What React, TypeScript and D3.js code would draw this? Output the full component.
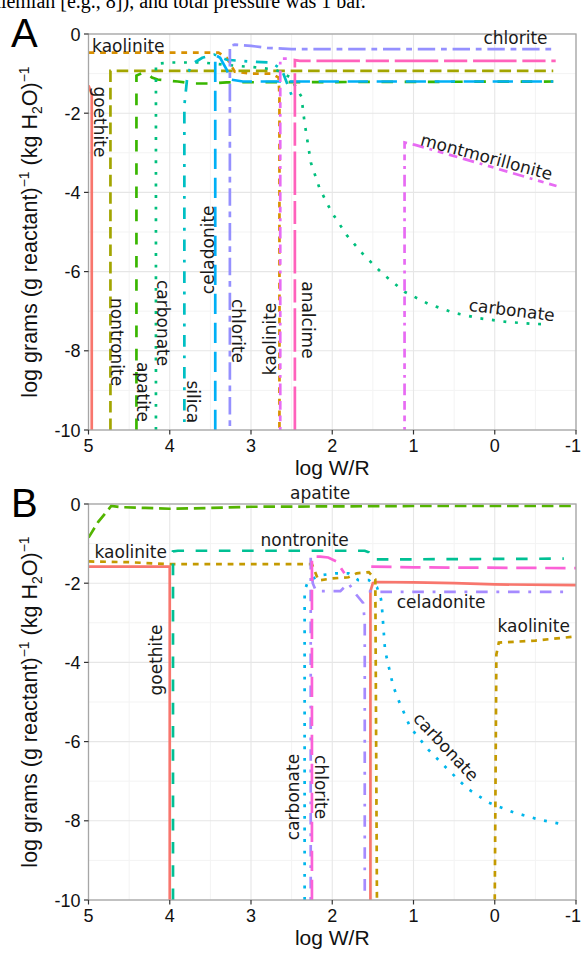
import React from 'react';
import * as d3 from 'd3';

// axis ticks shared by both panels (x axis runs from 5 down to -1)
const xTicks = [5, 4, 3, 2, 1, 0, -1];
const xMinor = [4.5, 3.5, 2.5, 1.5, 0.5, -0.5];
const yTicks = [0, -2, -4, -6, -8, -10];
const yMinor = [-1, -3, -5, -7, -9];

// ---- panel A, each mineral is a list of runs of [log W/R, log grams]
const goethiteA = [[[5, -1.3], [4.96, -1.5], [4.96, -10]]];
const kaoliniteA = [[[5, -0.47], [3.4, -0.47], [3.3, -0.6], [3.2, -0.95], [3.0, -1.0], [2.75, -1.0], [2.66, -1.1], [2.65, -1.6], [2.65, -10]]];
const nontroniteA = [[[4.73, -10], [4.73, -0.93], [-0.72, -0.93]]];
const apatiteA = [[[4.41, -10], [4.41, -1.05], [4.3, -0.95], [4.22, -1.1], [4.15, -1.15], [3.9, -1.2], [3.7, -1.25], [3.5, -1.25], [3.3, -1.22], [-0.72, -1.2]]];
const carbonateA = [[[4.17, -10], [4.17, -0.75], [4.0, -0.72], [3.6, -0.72], [3.2, -0.8], [2.9, -0.85], [2.7, -0.9], [2.6, -1.0], [2.52, -1.09], [2.38, -1.58], [2.34, -2.25], [2.263, -3.25], [2.156, -3.9], [2.007, -4.5], [1.822, -5.08], [1.609, -5.59], [1.37, -6.07], [1.111, -6.51], [0.822, -6.81], [0.506, -7.04], [0.185, -7.18], [-0.144, -7.27], [-0.474, -7.32], [-0.64, -7.33]]];
const silicaA = [[[3.82, -9.8], [3.82, -1.8], [3.78, -1.0], [3.72, -0.75], [3.6, -0.6], [3.45, -0.52], [3.3, -0.65], [3.0, -0.7], [2.75, -0.72], [2.62, -0.9], [2.5, -1.55]]];
const celadoniteA = [[[3.44, -10], [3.44, -0.53], [3.38, -0.6], [3.3, -0.9], [3.25, -1.15], [3.1, -1.2], [2.5, -1.2], [-0.72, -1.2]]];
const chloriteA = [[[3.26, -9.9], [3.26, -0.3], [3.2, -0.27], [3.0, -0.3], [2.8, -0.35], [2.5, -0.38], [-0.72, -0.38]]];
const montmorilloniteA = [
  [[2.64, -10], [2.64, -0.62], [2.56, -0.62]],
  [[1.11, -10], [1.11, -2.74], [0.98, -2.8], [0.185, -3.27], [-0.76, -3.84]],
];
const analcimeA = [[[2.46, -10], [2.46, -0.66], [2.4, -0.68], [-0.75, -0.68]]];

// ---- panel B
const goethiteB = [
  [[5, -1.58], [4.0, -1.58], [4.0, -10]],
  [[1.53, -10], [1.53, -2.2], [1.5, -2.0], [1.45, -1.97], [1.0, -1.98], [0.5, -2.0], [0, -2.03], [-1, -2.05]],
];
const kaoliniteB = [
  [[5, -1.45], [4.5, -1.47], [4.0, -1.52], [2.25, -1.52], [2.17, -1.93], [2.0, -1.88], [1.8, -1.85], [1.7, -1.75], [1.55, -1.72], [1.47, -1.9], [1.45, -10]],
  [[0.0, -10], [-0.02, -3.8], [-0.05, -3.5], [-0.5, -3.45], [-0.97, -3.35]],
];
const apatiteB = [[[5, -0.85], [4.88, -0.45], [4.72, -0.05], [4.6, -0.08], [4.3, -0.1], [4.0, -0.12], [3.5, -0.1], [3.0, -0.07], [2.0, -0.06], [1.0, -0.05], [-0.95, -0.05]]];
const nontroniteB = [[[3.96, -10], [3.96, -1.2], [3.9, -1.18], [1.6, -1.18], [1.55, -1.22], [1.5, -1.4], [1.4, -1.4], [-0.85, -1.38]]];
const carbonateB = [[[2.34, -10], [2.34, -2.2], [2.3, -1.95], [2.15, -1.8], [1.95, -1.75], [1.8, -1.75], [1.68, -1.92], [1.55, -1.92], [1.45, -2.1], [1.4, -2.4], [1.385, -2.7], [1.35, -3.7], [1.25, -4.6], [1.185, -4.95], [1.04, -5.64], [0.815, -6.21], [0.588, -6.68], [0.34, -7.18], [0.074, -7.54], [-0.235, -7.79], [-0.565, -7.98], [-0.87, -8.1]]];
const celadoniteB = [
  [[2.265, -10], [2.265, -1.35], [2.24, -2.0], [2.2, -2.2], [1.9, -2.2], [1.8, -2.0], [1.72, -2.25], [1.62, -2.5], [1.6, -3], [1.6, -9.8]],
  [[1.55, -2.2], [1.45, -2.22], [1.2, -2.22], [-0.88, -2.22]],
];
const chloriteB = [
  [[2.25, -10], [2.25, -1.33], [2.15, -1.33], [2.05, -1.35], [1.95, -1.45], [1.85, -1.75]],
  [[1.52, -1.58], [1.0, -1.6], [-1, -1.62]],
];

// in-plot labels: text, x, y, angle
const labelsA = [
  ['kaolinite', 4.51, -0.3, 0],
  ['chlorite', -0.255, -0.11, 0],
  ['goethite', 4.86, -2.22, 90],
  ['nontronite', 4.65, -7.78, 90],
  ['apatite', 4.33, -9.04, 90],
  ['carbonate', 4.08, -7.3, 90],
  ['silica', 3.71, -9.29, 90],
  ['celadonite', 3.53, -5.45, -90],
  ['chlorite', 3.16, -7.5, 90],
  ['kaolinite', 2.77, -7.7, -90],
  ['analcime', 2.3, -7.22, 90],
  ['montmorillonite', 0.1, -3.1, 15],
  ['carbonate', -0.21, -6.97, 7],
];
const labelsB = [
  ['apatite', 2.15, 0.28, 0],
  ['nontronite', 2.34, -0.91, 0],
  ['kaolinite', 4.48, -1.21, 0],
  ['goethite', 4.17, -3.94, -90],
  ['celadonite', 0.66, -2.47, 0],
  ['kaolinite', -0.48, -3.08, 0],
  ['carbonate', 2.48, -7.4, -90],
  ['chlorite', 2.14, -7.15, 90],
  ['carbonate', 0.6, -6.13, 47],
];

const seriesA = [
  ['goethite', goethiteA], ['kaolinite', kaoliniteA], ['nontronite', nontroniteA],
  ['apatite', apatiteA], ['carbonate', carbonateA], ['silica', silicaA],
  ['celadonite', celadoniteA], ['chlorite', chloriteA],
  ['montmorillonite', montmorilloniteA], ['analcime', analcimeA],
];
const seriesB = [
  ['goethite', goethiteB], ['kaolinite', kaoliniteB], ['apatite', apatiteB],
  ['nontronite', nontroniteB], ['carbonate', carbonateB],
  ['celadonite', celadoniteB], ['chlorite', chloriteB],
];

// ggplot hue palettes and linetypes, in factor order
const hue10 = ['#F8766D', '#D89000', '#A3A500', '#39B600', '#00BF7D', '#00BFC4', '#00B0F6', '#9590FF', '#E76BF3', '#FF62BC'];
const hue7 = ['#F8766D', '#C49A00', '#53B400', '#00C094', '#00B6EB', '#A58AFF', '#FB61D7'];
const ltys = ['', '22', '42', '44', '13', '1343', '73', '2262', '12223242', 'F282'];

const LW = 2.7;
const U = 2.9;
const dash = (code: string) =>
  code ? code.split('').map((c) => parseInt(c, 16) * U).join(' ') : undefined;

const LEFT = 88.5;
const RIGHT = 576;

const tickFont = '"Liberation Sans", Arial, sans-serif';
const labFont = '"DejaVu Sans", sans-serif';

function Panel({ id, top, bottom, series, colors, labels, letter }: any) {
  const x = d3.scaleLinear().domain([5, -1]).range([LEFT, RIGHT]);
  const y = d3.scaleLinear().domain([-10, 0]).range([bottom, top]);
  const lineFn = d3.line<number[]>().x((d) => x(d[0])).y((d) => y(d[1]));
  const midY = (top + bottom) / 2;

  return (
    <g>
      <defs>
        <clipPath id={'clip' + id}>
          <rect x={LEFT} y={top} width={RIGHT - LEFT} height={bottom - top} />
        </clipPath>
      </defs>
      {/* grid */}
      {xMinor.map((t) => (
        <line key={'xm' + t} x1={x(t)} x2={x(t)} y1={top} y2={bottom} stroke="#f3f3f3" strokeWidth={1} />
      ))}
      {yMinor.map((t) => (
        <line key={'ym' + t} x1={LEFT} x2={RIGHT} y1={y(t)} y2={y(t)} stroke="#f3f3f3" strokeWidth={1} />
      ))}
      {xTicks.map((t) => (
        <line key={'xg' + t} x1={x(t)} x2={x(t)} y1={top} y2={bottom} stroke="#e6e6e6" strokeWidth={1.1} />
      ))}
      {yTicks.map((t) => (
        <line key={'yg' + t} x1={LEFT} x2={RIGHT} y1={y(t)} y2={y(t)} stroke="#e6e6e6" strokeWidth={1.1} />
      ))}

      <g clipPath={`url(#clip${id})`}>
        {series.map(([name, runs]: any, i: number) =>
          runs.map((run: number[][], j: number) => (
            <path
              key={name + j}
              d={lineFn(run) || ''}
              fill="none"
              stroke={colors[i]}
              strokeWidth={LW}
              strokeDasharray={dash(ltys[i])}
              strokeLinecap="butt"
            />
          ))
        )}
      </g>

      <rect x={LEFT} y={top} width={RIGHT - LEFT} height={bottom - top} fill="none" stroke="#a6a6a6" strokeWidth={1.3} />

      {/* axes */}
      {xTicks.map((t, i) => {
        const last = i === xTicks.length - 1;
        return (
          <g key={'xt' + t}>
            <line x1={x(t)} x2={x(t)} y1={bottom} y2={bottom + 4.5} stroke="#333" strokeWidth={1.2} />
            <text
              x={last ? 581 : x(t)}
              y={bottom + 22}
              textAnchor={last ? 'end' : 'middle'}
              fontFamily={tickFont}
              fontSize={18}
              fill="#111"
            >
              {t}
            </text>
          </g>
        );
      })}
      {yTicks.map((t) => (
        <g key={'yt' + t}>
          <line x1={LEFT - 4.5} x2={LEFT} y1={y(t)} y2={y(t)} stroke="#333" strokeWidth={1.2} />
          <text x={LEFT - 8} y={y(t) + 6.5} textAnchor="end" fontFamily={tickFont} fontSize={18} fill="#111">
            {t}
          </text>
        </g>
      ))}
      <text x={(LEFT + RIGHT) / 2} y={bottom + 45} textAnchor="middle" fontFamily={tickFont} fontSize={21} fill="#111">
        log W/R
      </text>
      <text
        transform={`translate(37,${midY}) rotate(-90)`}
        textAnchor="middle"
        fontFamily={tickFont}
        fontSize={21.5}
        fill="#111"
      >
        log grams (g reactant)
        <tspan dy={-8} fontSize={14}>−1</tspan>
        <tspan dy={8}> (kg H</tspan>
        <tspan dy={5} fontSize={14}>2</tspan>
        <tspan dy={-5}>O)</tspan>
        <tspan dy={-8} fontSize={14}>−1</tspan>
      </text>

      {/* labels */}
      {labels.map(([txt, lx, ly, ang]: any, k: number) => (
        <text
          key={'lab' + k}
          transform={`translate(${x(lx)},${y(ly)}) rotate(${ang})`}
          textAnchor="middle"
          dominantBaseline="central"
          fontFamily={labFont}
          fontSize={17}
          fill="#1a1a1a"
        >
          {txt}
        </text>
      ))}

      <text x={11} y={top + 13} fontFamily={tickFont} fontSize={40} fill="#000">
        {letter}
      </text>
    </g>
  );
}

export default function App() {
  return (
    <svg
      width={582}
      height={954}
      style={{ position: 'absolute', left: 0, top: 0, background: '#fff' }}
    >
      <text x={-8} y={8} fontFamily='"Liberation Serif", serif' fontSize={20} fill="#000">
        alemian [e.g., 8]), and total pressure was 1 bar.
      </text>
      <Panel id="A" top={34} bottom={430} series={seriesA} colors={hue10} labels={labelsA} letter="A" />
      <Panel id="B" top={504} bottom={900} series={seriesB} colors={hue7} labels={labelsB} letter="B" />
    </svg>
  );
}
